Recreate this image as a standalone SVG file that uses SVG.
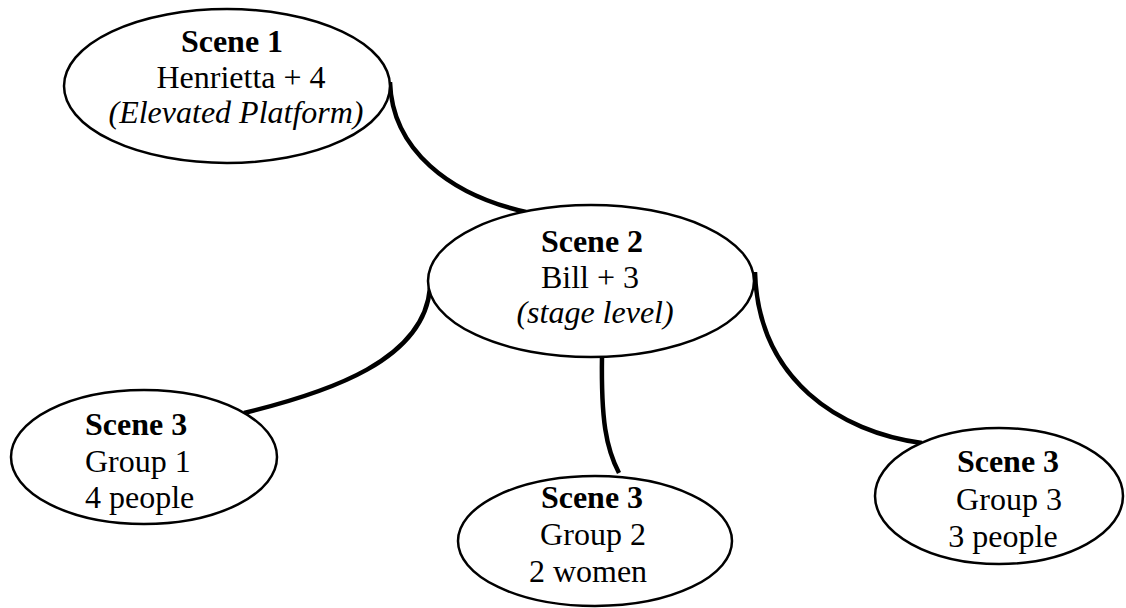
<svg xmlns="http://www.w3.org/2000/svg" width="1126" height="608" viewBox="0 0 1126 608" font-family="Liberation Serif, serif">
<style>
.node ellipse{fill:#fff;stroke:#000;stroke-width:2.5}
text{font-size:32px;fill:#000}
.b{font-weight:bold}
.i{font-style:italic}
.c{text-anchor:middle}
#connectors path{fill:none;stroke:#000;stroke-width:4.5}
</style>
<rect width="1126" height="608" fill="#fff"/>
<g id="connectors">
<path d="M390,82 C392,150 450,195 526,212"/>
<path d="M430,288 C424,360 330,392 244,413"/>
<path d="M602,356 C601,420 606,448 619,473"/>
<path d="M755,272 C758,380 840,432 922,443"/>
</g>
<g id="scene1" class="node">
<ellipse cx="227" cy="86" rx="163" ry="77"/>
<text class="b c" x="232" y="52">Scene 1</text>
<text class="c" x="241" y="88">Henrietta + 4</text>
<text class="i c" x="236" y="123">(Elevated Platform)</text>
</g>
<g id="scene2" class="node">
<ellipse cx="591" cy="281" rx="163" ry="76"/>
<text class="b c" x="592" y="252">Scene 2</text>
<text class="c" x="590" y="288">Bill + 3</text>
<text class="i c" x="595" y="323">(stage level)</text>
</g>
<g id="group1" class="node">
<ellipse cx="144" cy="457" rx="133" ry="67"/>
<text class="b" x="85" y="435">Scene 3</text>
<text x="85" y="472">Group 1</text>
<text x="85" y="508">4 people</text>
</g>
<g id="group2" class="node">
<ellipse cx="595" cy="541" rx="137" ry="65"/>
<text class="b c" x="592" y="508">Scene 3</text>
<text class="c" x="593" y="545">Group 2</text>
<text class="c" x="588" y="582">2 women</text>
</g>
<g id="group3" class="node">
<ellipse cx="999" cy="496" rx="124" ry="68"/>
<text class="b c" x="1008" y="472">Scene 3</text>
<text class="c" x="1009" y="510">Group 3</text>
<text class="c" x="1003" y="547">3 people</text>
</g>
</svg>
